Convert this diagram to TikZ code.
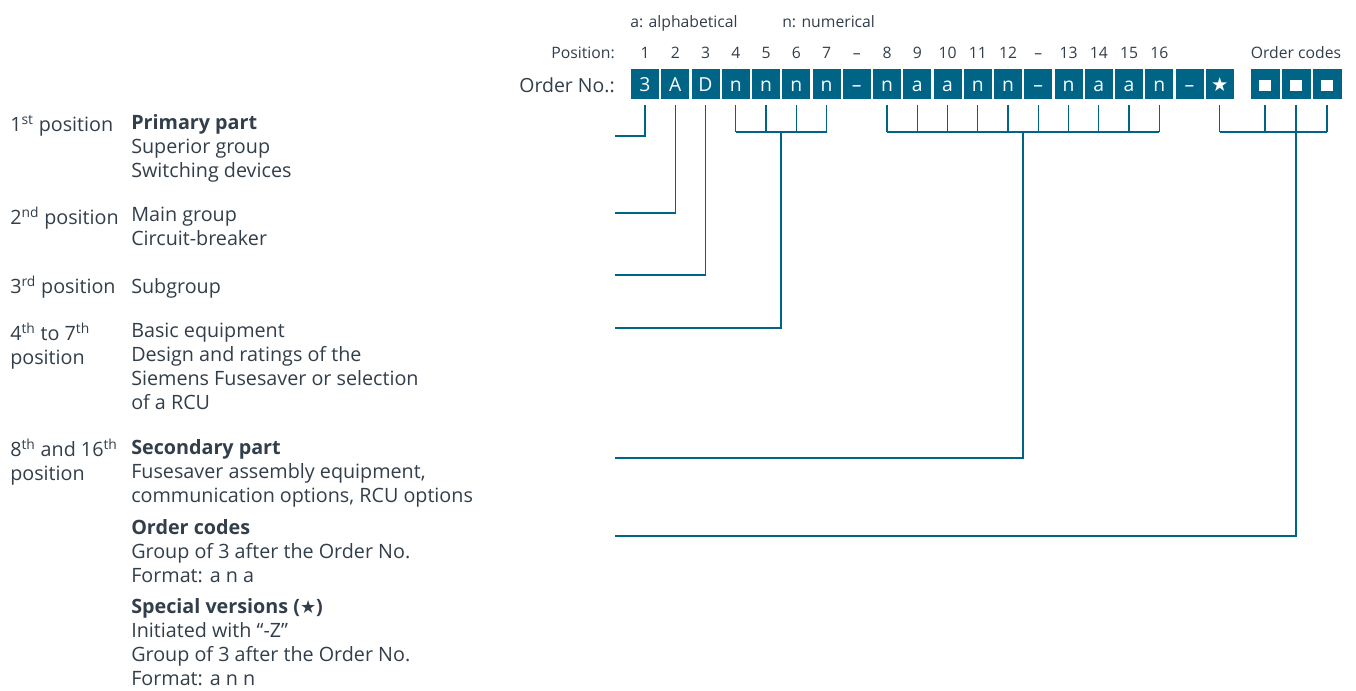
\documentclass[tikz,border=0pt]{standalone}
\usepackage{amsmath,amssymb}
\usepackage{fontspec}
\setmainfont{Open Sans}
\newfontfamily\symfont{DejaVu Sans}
\usetikzlibrary{calc}

\definecolor{petrol}{RGB}{0,100,135}
\definecolor{ink}{RGB}{50,62,74}

\tikzset{
  px/.style={x=0.75pt,y=-0.75pt},
  digit/.style={shape=rectangle,fill=petrol,text=white,minimum width=21pt,minimum height=22.5pt,
    inner sep=0pt,text height=11.5pt,text depth=0pt,font=\fontsize{14.5pt}{16pt}\selectfont},
  codebox/.style={digit,minimum width=21.75pt},
  poslabel/.style={anchor=base,inner sep=0pt,text=ink,font=\fontsize{11.8pt}{14pt}\selectfont},
  desc/.style={anchor=north west,align=left,inner sep=0pt,text=ink,
    font=\fontsize{14.8pt}{18pt}\selectfont,execute at begin node=\strut},
  link/.style={draw=petrol,line width=1.1pt},
}

\begin{document}
\begin{tikzpicture}[px]
\useasboundingbox (0,0) rectangle (1356,690);

% legend
\node[poslabel,anchor=base west] (alpha) at (630,27) {a: alphabetical};
\node[poslabel,anchor=base west] (numer) at (782,27) {n: numerical};
\node[poslabel,anchor=base east] (poshead) at (615,58) {Position:};
\node[anchor=base east,inner sep=0pt,text=ink,font=\fontsize{14.6pt}{18pt}\selectfont] (ordno) at (615,92) {Order No.:};

% order number
\foreach \c [count=\i] in {3,A,D,n,n,n,n,–,n,a,a,n,n,–,n,a,a,n,–,{\symfont ★}}
  \node[digit] (b\i) at ({645+30.25*(\i-1)},84) {\c};
\foreach \i in {1,2,3}
  \node[codebox] (oc\i) at ({1234+31*\i},84) {\raisebox{0.6pt}{\rule{8.5pt}{8.5pt}}};

% position numbers
\coordinate (numline) at (0,58);
\foreach \p [count=\i] in {1,2,3,4,5,6,7,–,8,9,10,11,12,–,13,14,15,16}
  \node[poslabel] (p\i) at (b\i |- numline) {\p};
\node[poslabel] (ochead) at (oc2 |- numline) {Order codes};

% descriptions
\node[desc] (d1a) at (10,114) {1\textsuperscript{st} position};
\node[desc] (d1b) at (131,114) {\textbf{Primary part}\\Superior group\\Switching devices};
\node[desc] (d2a) at (10,207) {2\textsuperscript{nd} position};
\node[desc] (d2b) at (131,207) {Main group\\Circuit-breaker};
\node[desc] (d3a) at (10,276) {3\textsuperscript{rd} position};
\node[desc] (d3b) at (131,276) {Subgroup};
\node[desc] (d4a) at (10,323) {4\textsuperscript{th} to 7\textsuperscript{th}\\position};
\node[desc] (d4b) at (131,323) {Basic equipment\\Design and ratings of the\\Siemens Fusesaver or selection\\of a RCU};
\node[desc] (d5a) at (10,439) {8\textsuperscript{th} and 16\textsuperscript{th}\\position};
\node[desc] (d5b) at (131,439) {\textbf{Secondary part}\\Fusesaver assembly equipment,\\communication options, RCU options};
\node[desc] (d6b) at (131,519) {\textbf{Order codes}\\Group of 3 after the Order No.\\Format: a n a};
\node[desc] (d7b) at (131,598) {\textbf{Special versions ({\symfont\fontsize{13.5pt}{14pt}\selectfont ★})}\\Initiated with “-Z”\\Group of 3 after the Order No.\\Format: a n n};

% connectors
\coordinate (bar) at (0,132);
\coordinate (e1) at (615,136);
\coordinate (e2) at (615,213);
\coordinate (e3) at (615,275);
\coordinate (e4) at (615,328);
\coordinate (e5) at (615,458);
\coordinate (e6) at (615,536);

\draw[link,shorten <=4pt] (b1.south) |- (e1);
\draw[link,shorten <=4pt] (b2.south) |- (e2);
\draw[link,shorten <=4pt] (b3.south) |- (e3);

\foreach \i in {4,...,7,9,10,...,18,20}
  \draw[link,shorten <=4pt] (b\i.south) -- (b\i |- bar);
\foreach \i in {1,2,3}
  \draw[link,shorten <=4pt] (oc\i.south) -- (oc\i |- bar);

\draw[link] (b4 |- bar) -- (b7 |- bar);
\draw[link] (b9 |- bar) -- (b18 |- bar);
\draw[link] (b20 |- bar) -- (oc3 |- bar);

\coordinate (m4) at ($(b4 |- bar)!.5!(b7 |- bar)$);
\coordinate (m5) at ($(b9 |- bar)!.5!(b18 |- bar)$);
\draw[link] (m4) |- (e4);
\draw[link] (m5) |- (e5);
\draw[link] (oc2 |- bar) |- (e6);
\end{tikzpicture}
\end{document}
